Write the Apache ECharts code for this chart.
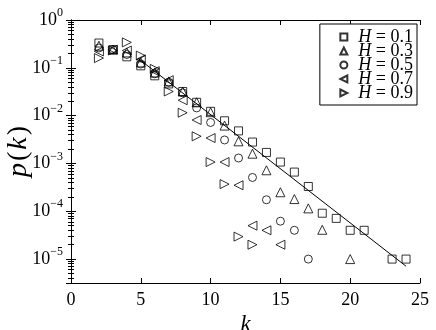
<!DOCTYPE html>
<html>
<head>
<meta charset="utf-8">
<script src="https://cdn.jsdelivr.net/npm/echarts@6/dist/echarts.min.js"></script>
<style>
  html, body { margin: 0; padding: 0; background: #fff; }
  #chart { width: 436px; height: 330px; }
</style>
</head>
<body>
<div id="chart"></div>
<script>
// degree k and probability p(k) for each H
const kH01 = [2, 3, 4, 5, 6, 7, 8, 9, 10, 11, 12, 13, 14, 15, 16, 17, 18, 19, 20, 21, 23, 24]
const pH01 = [0.33, 0.24, 0.17, 0.11, 0.068, 0.046, 0.032, 0.019, 0.0123, 0.0078, 0.0048, 0.0028, 0.0017, 0.00107, 0.00066, 0.00033, 0.000091, 0.000071, 0.00004, 0.00004, 0.00001, 0.00001]

const kH03 = [2, 3, 4, 5, 6, 7, 8, 9, 10, 11, 12, 13, 14, 15, 16, 17, 18, 20]
const pH03 = [0.29, 0.24, 0.21, 0.13, 0.08, 0.052, 0.032, 0.019, 0.0118, 0.0062, 0.0029, 0.0016, 0.00072, 0.00025, 0.00018, 0.000115, 0.000041, 0.00001]

const kH05 = [2, 3, 4, 5, 6, 7, 8, 9, 10, 11, 12, 13, 14, 15, 16, 17]
const pH05 = [0.26, 0.24, 0.19, 0.12, 0.075, 0.05, 0.03, 0.0145, 0.0072, 0.0031, 0.0013, 0.00051, 0.000174, 0.000062, 0.00004, 0.00001]

const kH07 = [2, 3, 4, 5, 6, 7, 8, 9, 10, 11, 12, 13, 14, 15]
const pH07 = [0.22, 0.24, 0.23, 0.15, 0.085, 0.055, 0.021, 0.0081, 0.0034, 0.00107, 0.00035, 0.00005, 0.00004, 0.00002]

const kH09 = [2, 3, 4, 5, 6, 7, 8, 9, 10, 11, 12, 13]
const pH09 = [0.16, 0.23, 0.34, 0.18, 0.095, 0.032, 0.0115, 0.0037, 0.00107, 0.00037, 0.0000295, 0.00002]

// fitted line end points
const fitK = [4.8, 24]
const fitP = [0.158, 0.0000071]

const names = ['H = 0.1', 'H = 0.3', 'H = 0.5', 'H = 0.7', 'H = 0.9']

const serif = 'Liberation Serif'

// legend icons, left and right pointing triangles drawn as paths
const iconLeft = 'path://M10,0 L0,5 L10,10 Z'
const iconRight = 'path://M0,0 L10,5 L0,10 Z'

const chart = echarts.init(document.getElementById('chart'))

function pairs(ks, ps) {
  return ks.map((k, i) => [k, ps[i]])
}

function markerSeries(name, ks, ps, symbol, rotate, size) {
  return {
    name: name,
    type: 'scatter',
    data: pairs(ks, ps),
    symbol: symbol,
    symbolRotate: rotate,
    symbolSize: size,
    itemStyle: {
      color: 'none',
      borderColor: '#000',
      borderWidth: 1
    },
    z: 3
  }
}

function powLabel(v) {
  const e = Math.log10(v)
  if (Math.abs(e - Math.round(e)) > 1e-6) return ''
  const n = Math.round(e)
  return '{b|10}{e|' + (n < 0 ? '\u2212' + (-n) : n) + '}'
}

const yMin = Math.pow(10, -5.5)

const legendIcons = ['rect', 'triangle', 'circle', iconLeft, iconRight]

const options = {
  animation: false,
  grid: {
    left: 71,
    right: 16,
    top: 20,
    bottom: 47,
    outerBoundsMode: 'none'
  },
  legend: {
    orient: 'vertical',
    right: 19,
    top: 24,
    data: names.map((n, i) => ({ name: n, icon: legendIcons[i] })),
    itemWidth: 7,
    itemHeight: 7,
    itemGap: -4,
    padding: [4, 4, 3, 18],
    borderColor: '#000',
    borderWidth: 1,
    backgroundColor: '#fff',
    formatter: name => '{i|H} = ' + name.split('= ')[1],
    textStyle: {
      fontFamily: serif,
      fontSize: 18,
      color: '#000',
      rich: {
        i: { fontStyle: 'italic', fontFamily: serif, fontSize: 18, padding: [0, 0, 0, 6] }
      }
    }
  },
  xAxis: [
    {
      type: 'value',
      min: 0,
      max: 25,
      interval: 5,
      name: 'k',
      nameLocation: 'middle',
      nameGap: 22,
      nameTextStyle: {
        fontFamily: serif,
        fontStyle: 'italic',
        fontSize: 23,
        color: '#000'
      },
      axisLine: { lineStyle: { color: '#000', width: 1 } },
      axisTick: { inside: true, length: 5, lineStyle: { color: '#000' } },
      axisLabel: {
        fontFamily: serif,
        fontSize: 18,
        color: '#000',
        margin: 8
      },
      splitLine: { show: false }
    },
    {
      type: 'value',
      position: 'top',
      min: 0,
      max: 25,
      interval: 5,
      axisLine: { lineStyle: { color: '#000', width: 1 } },
      axisTick: { inside: true, length: 5, lineStyle: { color: '#000' } },
      axisLabel: { show: false },
      splitLine: { show: false }
    }
  ],
  yAxis: [
    {
      type: 'log',
      logBase: 10,
      min: yMin,
      max: 1,
      name: '{i|p}{n|(}{i|k}{n|)}',
      nameLocation: 'middle',
      nameGap: 38,
      nameMoveOverlap: false,
      nameTextStyle: {
        fontFamily: serif,
        fontSize: 28,
        color: '#000',
        rich: {
          i: { fontFamily: serif, fontStyle: 'italic', fontSize: 28, padding: [0, 1, 0, 1] },
          n: { fontFamily: serif, fontSize: 28, padding: [0, 1, 0, 1] }
        }
      },
      axisLine: { lineStyle: { color: '#000', width: 1 } },
      axisTick: { inside: true, length: 5, lineStyle: { color: '#000' } },
      minorTick: { show: true, splitNumber: 9, length: 3, lineStyle: { color: '#000' } },
      axisLabel: {
        margin: 8,
        formatter: powLabel,
        rich: {
          b: { fontFamily: serif, fontSize: 18, color: '#000', lineHeight: 26 },
          e: { fontFamily: serif, fontSize: 12, color: '#000', lineHeight: 12, verticalAlign: 'top' }
        }
      },
      splitLine: { show: false },
      minorSplitLine: { show: false }
    },
    {
      type: 'log',
      logBase: 10,
      position: 'right',
      min: yMin,
      max: 1,
      axisLine: { lineStyle: { color: '#000', width: 1 } },
      axisTick: { inside: true, length: 5, lineStyle: { color: '#000' } },
      minorTick: { show: true, splitNumber: 9, length: 3, lineStyle: { color: '#000' } },
      axisLabel: { show: false },
      splitLine: { show: false },
      minorSplitLine: { show: false }
    }
  ],
  series: [
    markerSeries(names[0], kH01, pH01, 'rect', 0, 8),
    markerSeries(names[1], kH03, pH03, 'triangle', 0, 9),
    markerSeries(names[2], kH05, pH05, 'circle', 0, 8),
    markerSeries(names[3], kH07, pH07, 'triangle', 90, 9),
    markerSeries(names[4], kH09, pH09, 'triangle', -90, 9),
    {
      type: 'line',
      data: pairs(fitK, fitP),
      showSymbol: false,
      symbol: 'none',
      lineStyle: { color: '#000', width: 1 },
      z: 2
    }
  ]
}

chart.setOption(options)
</script>
</body>
</html>
